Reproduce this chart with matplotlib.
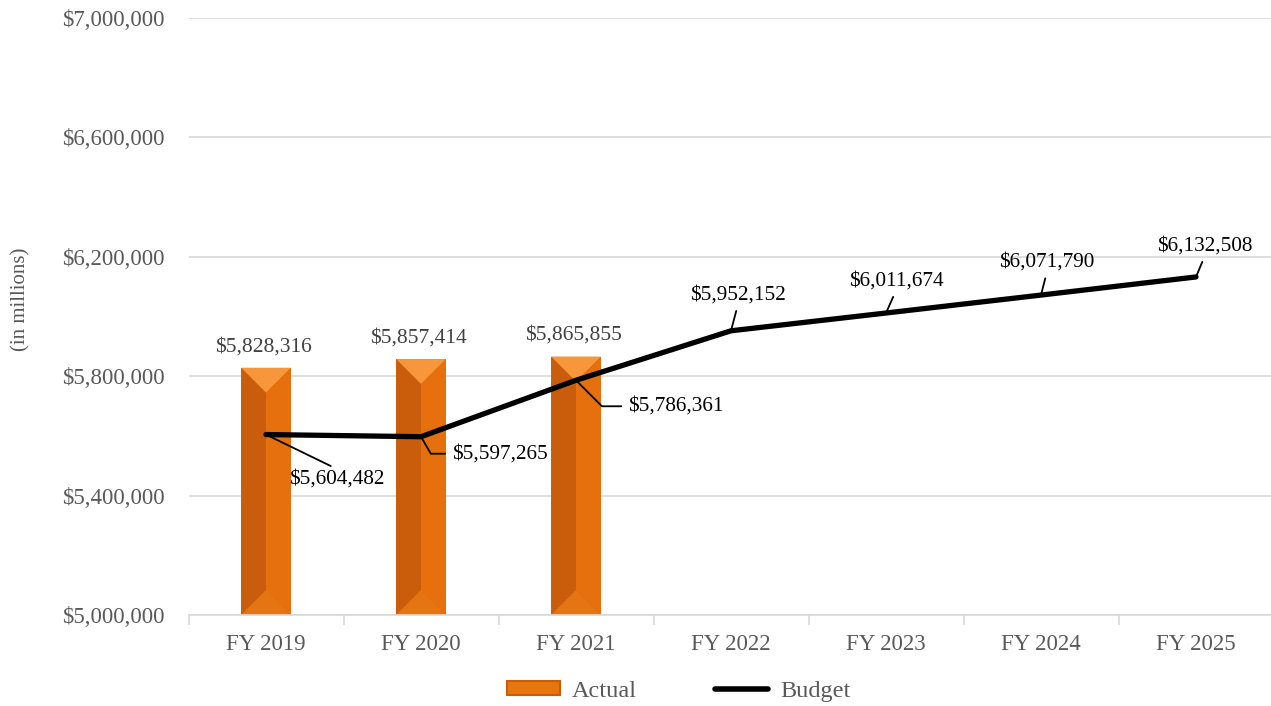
import numpy as np
import matplotlib.pyplot as plt
from matplotlib.patches import Polygon, Patch
from matplotlib.lines import Line2D
from matplotlib.ticker import FuncFormatter

plt.rcParams['font.family'] = ['Liberation Serif', 'DejaVu Serif']

years = ['FY 2019', 'FY 2020', 'FY 2021', 'FY 2022', 'FY 2023', 'FY 2024', 'FY 2025']
actual = [5828316, 5857414, 5865855]
budget = [5604482, 5597265, 5786361, 5952152, 6011674, 6071790, 6132508]

# label offsets (pixels) from each budget point, and where the leader starts on the label
budget_offsets = [(71, -44), (79, -17), (100, -26), (7, 36), (10, 32), (6, 33), (9, 31)]
budget_relpos = [(0.5, 1), (0, 0.5), (0, 0.5), (0.5, 0), (0.5, 0), (0.5, 0), (0.5, 0)]
budget_conn = ['arc3', 'angle,angleA=0,angleB=-60,rad=0', 'angle,angleA=0,angleB=-45,rad=0',
               'arc3', 'arc3', 'arc3', 'arc3']

gray = '#595959'
fig = plt.figure(figsize=(12.71, 7.06), dpi=100)
ax = fig.add_axes([188.5 / 1271, 1 - 615 / 706, 1085 / 1271, 597 / 706])

x = np.arange(len(years))
ax.set_xlim(-0.5, len(years) - 0.5)
ax.set_ylim(5000000, 7000000)
ax.set_yticks(np.arange(5000000, 7000001, 400000))
ax.yaxis.set_major_formatter(FuncFormatter(lambda v, p: '${:,.0f}'.format(v)))
ax.grid(axis='y', color='#D9D9D9', linewidth=1.2)
ax.set_axisbelow(True)
for s in ['top', 'right', 'left']:
    ax.spines[s].set_visible(False)
ax.spines['bottom'].set_color('#D9D9D9')
ax.spines['bottom'].set_linewidth(1.2)
ax.tick_params(axis='y', length=0, labelsize=16.5, labelcolor=gray, pad=17)
ax.set_xticks(x)
ax.set_xticklabels(years)
ax.tick_params(axis='x', length=0, labelsize=16.5, labelcolor=gray, pad=14)
ax.set_xticks(np.arange(-0.5, len(years), 1), minor=True)
ax.tick_params(axis='x', which='minor', length=7, color='#D9D9D9', width=1.2)
ax.set_ylabel('(in millions)', fontsize=15, color=gray)
ax.yaxis.set_label_coords(-0.146, 0.528)

# bars with a soft bevel look
bw = 0.32
bars = ax.bar(x[:len(actual)], actual, width=bw, bottom=0, color='#E36C0A',
              edgecolor='none', zorder=2)
px_per_y = ax.transData.transform((0, 1)) - ax.transData.transform((0, 0))
px_per_x = ax.transData.transform((1, 0)) - ax.transData.transform((0, 0))
half_px = bw / 2 * px_per_x[0]
dy = half_px / px_per_y[1]
ymin = ax.get_ylim()[0]
for xi, v in zip(x[:len(actual)], actual):
    l, r, c = xi - bw / 2, xi + bw / 2, xi
    b, t = ymin, v
    ax.add_patch(Polygon([(l, b), (l, t), (c, t - dy), (c, b + dy)], closed=True,
                         facecolor='#C95D0C', edgecolor='none', zorder=2))
    ax.add_patch(Polygon([(r, b), (r, t), (c, t - dy), (c, b + dy)], closed=True,
                         facecolor='#E5700D', edgecolor='none', zorder=2))
    ax.add_patch(Polygon([(l, t), (r, t), (c, t - dy)], closed=True,
                         facecolor='#F7963A', edgecolor='none', zorder=2))
    ax.add_patch(Polygon([(l, b), (r, b), (c, b + dy)], closed=True,
                         facecolor='#E47512', edgecolor='none', zorder=2))
    ax.annotate('${:,.0f}'.format(v), (xi, v), xytext=(-3, 21), textcoords='offset pixels',
                ha='center', va='center', fontsize=15.5, color='#404040', zorder=5)

ax.plot(x, budget, color='black', linewidth=3.8, solid_capstyle='round', zorder=3)

for xi, v, off, rp, cs in zip(x, budget, budget_offsets, budget_relpos, budget_conn):
    ax.annotate('${:,.0f}'.format(v), (xi, v), xytext=off, textcoords='offset pixels',
                ha='center', va='center', fontsize=15.3, color='black', zorder=5,
                arrowprops=dict(arrowstyle='-', color='black', lw=1.3, relpos=rp,
                                connectionstyle=cs, patchA=None, shrinkA=5, shrinkB=0))

handles = [Patch(facecolor='#E8760F', edgecolor='#C95D0C', linewidth=1.5),
           Line2D([0], [0], color='black', linewidth=4, solid_capstyle='round')]
fig.legend(handles, ['Actual', 'Budget'], loc='center', bbox_to_anchor=(0.534, 0.021),
           ncol=2, frameon=False, fontsize=17.5, labelcolor=gray, columnspacing=3.2,
           handlelength=2.2, handleheight=0.45, handletextpad=0.5)

fig.savefig('out.png', dpi=100)
